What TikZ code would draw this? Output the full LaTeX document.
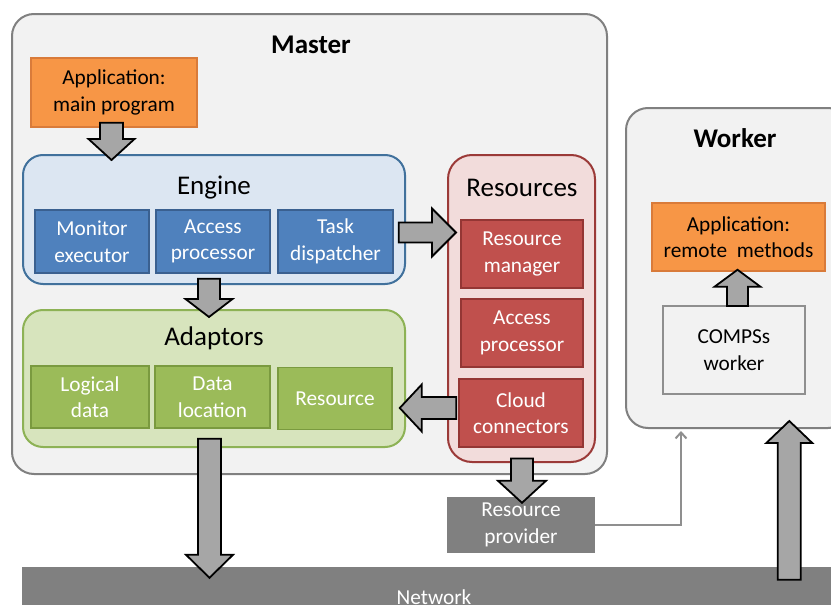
\documentclass[tikz,border=0pt]{standalone}
\usepackage{fontspec}
\setmainfont{Carlito}
\usetikzlibrary{calc,arrows.meta}

\definecolor{panelfill}{HTML}{F2F2F2}
\definecolor{panelline}{HTML}{808080}
\definecolor{appfill}{HTML}{F79646}
\definecolor{appline}{HTML}{D97B3A}
\definecolor{enginefill}{HTML}{DCE6F2}
\definecolor{engineline}{HTML}{41719C}
\definecolor{bluefill}{HTML}{4F81BD}
\definecolor{blueline}{HTML}{3A6090}
\definecolor{adaptfill}{HTML}{D7E4BD}
\definecolor{adaptline}{HTML}{8DB255}
\definecolor{greenfill}{HTML}{9BBB59}
\definecolor{greenline}{HTML}{7A9A3F}
\definecolor{resfill}{HTML}{F2DCDB}
\definecolor{resline}{HTML}{9B3A38}
\definecolor{redfill}{HTML}{C0504D}
\definecolor{redline}{HTML}{943634}
\definecolor{arrowfill}{HTML}{A6A6A6}
\definecolor{darkgrey}{HTML}{808080}
\definecolor{thinline}{HTML}{8F8F8F}

\tikzset{
  bodyfont/.style={font=\fontsize{21.3}{26.5}\selectfont},
  titlefont/.style={font=\fontsize{27}{32}\selectfont},
  panel/.style={draw=panelline, fill=panelfill, line width=2pt, rounded corners=22pt,
    inner sep=0pt, anchor=center},
  group/.style={line width=2pt, rounded corners=20pt, inner sep=0pt, anchor=center},
  unitbox/.style={line width=1.5pt, inner sep=0pt, anchor=center, align=center,
    text=white, bodyfont},
  appbox/.style={draw=appline, fill=appfill, line width=1.5pt, inner sep=0pt,
    anchor=center, align=center, bodyfont},
  blockarrow/.style={draw=black, fill=arrowfill, line width=1.8pt, line join=miter},
  linkline/.style={draw=thinline, line width=2pt,
    -{Straight Barb[length=6pt,width=11pt,line width=2pt]}},
}

% block arrow: #1 start, #2 tip, #3 shaft half width, #4 head half width, #5 head length
\newcommand\blockarrow[5]{%
  \coordinate (ba-s) at #1;
  \coordinate (ba-t) at #2;
  \coordinate (ba-h) at ($(ba-t)!#5!(ba-s)$);
  \draw[blockarrow]
    ($(ba-s)!#3!90:(ba-t)$) -- ($(ba-h)!#3!90:(ba-t)$) -- ($(ba-h)!#4!90:(ba-t)$)
    -- (ba-t)
    -- ($(ba-h)!#4!-90:(ba-t)$) -- ($(ba-h)!#3!-90:(ba-t)$) -- ($(ba-s)!#3!-90:(ba-t)$)
    -- cycle;
}

\begin{document}
\begin{tikzpicture}[x=1pt, y=-1pt]
\useasboundingbox (0,0) rectangle (831,605);
\clip (0,0) rectangle (831,605);

% network bar
\node[fill=darkgrey, inner sep=0pt, minimum width=824pt, minimum height=60pt,
  text=white, bodyfont] (network) at (434,597) {Network};

% master panel
\node[panel, minimum width=595pt, minimum height=460pt] (master) at (309.5,244) {};
\node[font=\fontsize{27}{32}\bfseries] (mastertitle) at (311,44.5) {Master};

\node[appbox, minimum width=166pt, minimum height=69pt] (app) at (114,92.5)
  {Application:\\main program};

% engine
\node[group, draw=engineline, fill=enginefill, minimum width=382pt, minimum height=129pt]
  (engine) at (214,219.5) {};
\node[titlefont] (enginetitle) at (214,188) {Engine};
\node[unitbox, draw=blueline, fill=bluefill, minimum width=114pt, minimum height=63pt]
  (mon) at (92,241.5) {Monitor\\executor};
\node[unitbox, draw=blueline, fill=bluefill, minimum width=114pt, minimum height=63pt]
  (acc) at (213,241.5) {Access\\processor};
\node[unitbox, draw=blueline, fill=bluefill, minimum width=115pt, minimum height=63pt]
  (task) at (335.5,241.5) {Task\\dispatcher};

% adaptors
\node[group, draw=adaptline, fill=adaptfill, minimum width=382pt, minimum height=137pt]
  (adaptors) at (214,378.5) {};
\node[titlefont] (adaptorstitle) at (214,338) {Adaptors};
\node[unitbox, draw=greenline, fill=greenfill, minimum width=118pt, minimum height=62pt]
  (logical) at (90,397) {Logical\\data};
\node[unitbox, draw=greenline, fill=greenfill, minimum width=115pt, minimum height=62pt]
  (dataloc) at (212.5,397) {Data\\location};
\node[unitbox, draw=greenline, fill=greenfill, minimum width=114pt, minimum height=62pt]
  (resad) at (335,398.5) {Resource};

% resources
\node[group, rounded corners=24pt, draw=resline, fill=resfill, minimum width=147pt,
  minimum height=307pt] (resources) at (521.5,308.5) {};
\node[titlefont] (resourcestitle) at (522,187.5) {Resources};
\node[unitbox, draw=redline, fill=redfill, minimum width=122pt, minimum height=68pt]
  (resman) at (522,254) {Resource\\manager};
\node[unitbox, draw=redline, fill=redfill, minimum width=122pt, minimum height=68pt]
  (accproc) at (522,333) {Access\\processor};
\node[unitbox, draw=redline, fill=redfill, minimum width=124pt, minimum height=68pt]
  (cloud) at (521,413) {Cloud\\connectors};

% resource provider
\node[fill=darkgrey, inner sep=0pt, minimum width=148pt, minimum height=56pt,
  text=white, align=center, bodyfont] (provider) at (521,525) {Resource\\provider};

% worker panel
\node[panel, minimum width=224pt, minimum height=320pt] (worker) at (738,268) {};
\node[font=\fontsize{27}{32}\bfseries] (workertitle) at (735,138.5) {Worker};
\node[appbox, minimum width=173pt, minimum height=68pt] (apprm) at (738.5,237)
  {Application:\\remote\ \ methods};
\node[draw=thinline, fill=panelfill, line width=2pt, inner sep=0pt, align=center,
  bodyfont, minimum width=142pt, minimum height=88pt] (compss) at (734,350)
  {COMPSs\\worker};

% thin link from the provider to the worker
\draw[linkline] (provider.east) -| ($(worker.south west)+(56,2)$);

% block arrows
\blockarrow{($(app.south)+(-2.5,-5)$)}{($(app.south |- engine.north)+(-2.5,6)$)}{11.5pt}{23pt}{21pt}
\blockarrow{($(task.east)+(5,-9)$)}{($(task.east -| resources.west)+(9,-9)$)}{10pt}{24pt}{24pt}
\blockarrow{($(acc.south)+(-4,5)$)}{($(acc.south |- adaptors.north)+(-4,8)$)}{11pt}{23.5pt}{18pt}
\blockarrow{($(cloud.west)+(-2,-5)$)}{($(cloud.west -| resad.east)+(7,-5)$)}{11pt}{23.5pt}{22pt}
\blockarrow{($(resources.south)+(0.5,-4.5)$)}{($(resources.south |- provider.north)+(0.5,6)$)}{11pt}{24pt}{22pt}
\blockarrow{($(dataloc.south)+(-3,10)$)}{($(dataloc.south |- network.north)+(-3,11)$)}{11.5pt}{23.5pt}{23pt}
\blockarrow{($(compss.north)+(3.5,1)$)}{($(compss.north |- apprm.south)+(3.5,-2)$)}{10.5pt}{23pt}{17pt}
\coordinate (netin) at ($(network.north west)+(767.5,13)$);
\blockarrow{(netin)}{($(netin |- worker.south)+(0,-8)$)}{11.5pt}{23pt}{22pt}

\end{tikzpicture}
\end{document}
